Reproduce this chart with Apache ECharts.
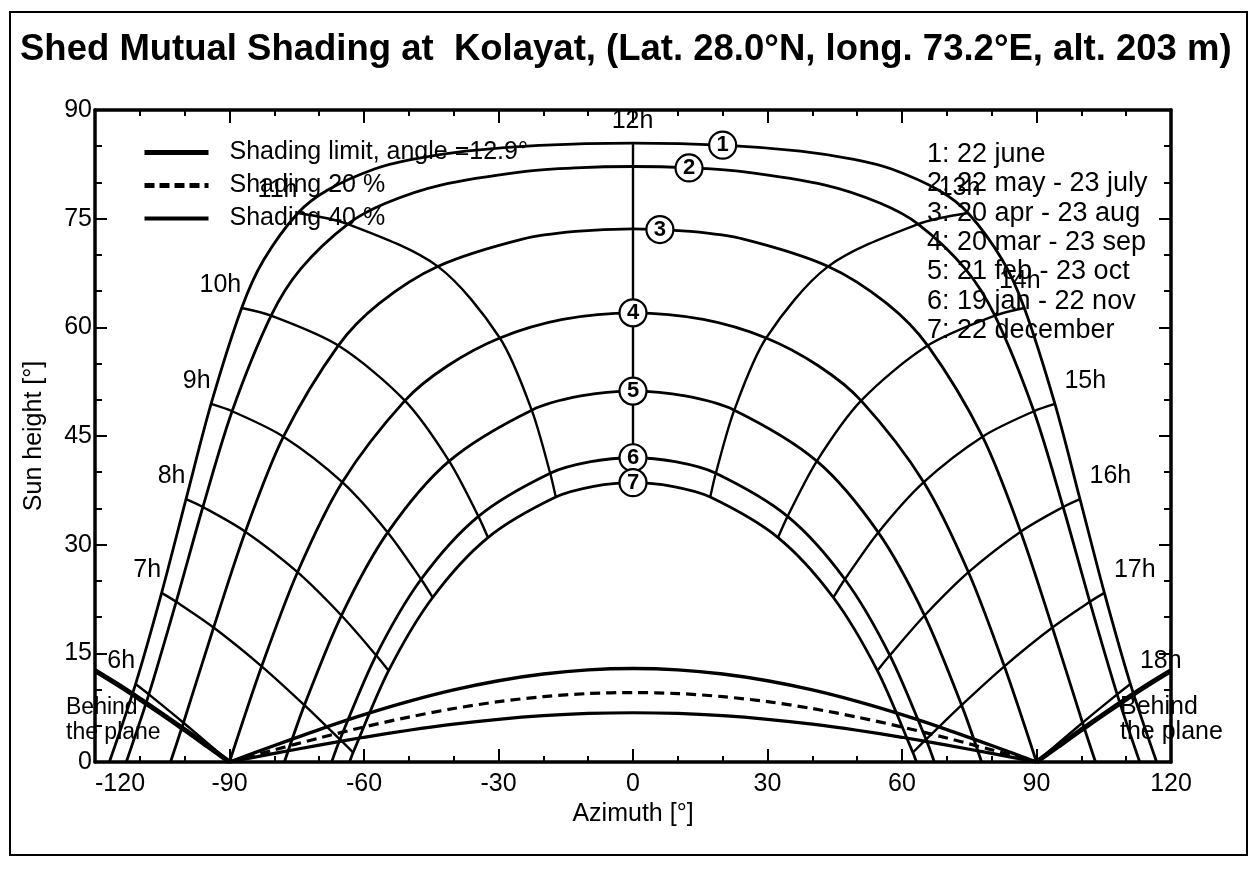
<!DOCTYPE html>
<html>
<head>
<meta charset="utf-8">
<script src="https://cdn.jsdelivr.net/npm/echarts@6/dist/echarts.min.js"></script>
<style>
  html, body { margin: 0; padding: 0; background: #fff; }
  #chart { width: 1257px; height: 870px; }
</style>
</head>
<body>
<div id="chart"></div>
<script>
const FONT = '"Liberation Sans", Arial, Helvetica, sans-serif';

const titleText = 'Shed Mutual Shading at  Kolayat, (Lat. 28.0°N, long. 73.2°E, alt. 203 m)';

// Sun paths, one per date: [solar time (h), azimuth (°), sun height (°)]
const path1 = [
  [5.11, -116.80, 0], [6, -110.95, 10.76], [7, -105.14, 23.35], [8, -99.70, 36.29], [9, -94.11, 49.43],
  [10, -87.28, 62.67], [10.5, -82.42, 69.25], [11, -74.73, 75.78], [11.25, -68.29, 78.89], [11.5, -57.67, 81.85],
  [11.625, -49.28, 83.18], [11.75, -37.34, 84.33], [11.875, -20.92, 85.13], [12, 0, 85.44],
  [12.125, 20.92, 85.13], [12.25, 37.34, 84.33], [12.375, 49.28, 83.18], [12.5, 57.67, 81.85], [12.75, 68.29, 78.89],
  [13, 74.73, 75.78], [13.5, 82.42, 69.25], [14, 87.28, 62.67], [15, 94.11, 49.43], [16, 99.70, 36.29],
  [17, 105.14, 23.35], [18, 110.95, 10.76], [18.89, 116.80, 0]
];
const path2 = [
  [5.25, -113.02, 0], [6, -107.99, 9.33], [7, -101.89, 22.12], [8, -95.94, 35.20], [9, -89.42, 48.42],
  [10, -80.72, 61.61], [10.5, -74.12, 68.07], [11, -63.60, 74.25], [11.25, -55.19, 77.12], [11.5, -42.87, 79.63],
  [11.75, -24.41, 81.49], [11.875, -12.87, 82.01], [12, 0, 82.20],
  [12.125, 12.87, 82.01], [12.25, 24.41, 81.49], [12.5, 42.87, 79.63], [12.75, 55.19, 77.12], [13, 63.60, 74.25],
  [13.5, 74.12, 68.07], [14, 80.72, 61.61], [15, 89.42, 48.42], [16, 95.94, 35.20], [17, 101.89, 22.12],
  [18, 107.99, 9.33], [18.75, 113.02, 0]
];
const path3 = [
  [5.58, -103.16, 0], [6, -100.27, 5.42], [7, -93.54, 18.56], [8, -86.47, 31.79], [9, -77.97, 44.91],
  [10, -65.74, 57.48], [10.5, -56.59, 63.31], [11, -43.55, 68.41], [11.5, -24.66, 72.18], [11.75, -12.82, 73.24],
  [12, 0, 73.60],
  [12.25, 12.82, 73.24], [12.5, 24.66, 72.18], [13, 43.55, 68.41], [13.5, 56.59, 63.31], [14, 65.74, 57.48],
  [15, 77.97, 44.91], [16, 86.47, 31.79], [17, 93.54, 18.56], [18, 100.27, 5.42], [18.42, 103.16, 0]
];
const path4 = [
  [6, -90.00, 0], [7, -82.83, 13.21], [8, -74.83, 26.20], [9, -64.85, 38.63], [10, -50.88, 49.88],
  [10.5, -41.42, 54.66], [11, -29.70, 58.53], [11.5, -15.68, 61.09], [12, 0, 62.00],
  [12.5, 15.68, 61.09], [13, 29.70, 58.53], [13.5, 41.42, 54.66], [14, 50.88, 49.88], [15, 64.85, 38.63],
  [16, 74.83, 26.20], [17, 82.83, 13.21], [18, 90.00, 0]
];
const path5 = [
  [6.39, -77.75, 0], [7, -73.29, 7.85], [8, -65.04, 20.22], [9, -54.71, 31.69], [10, -41.01, 41.54],
  [11, -22.59, 48.57], [11.5, -11.64, 50.53], [12, 0, 51.20],
  [12.5, 11.64, 50.53], [13, 22.59, 48.57], [14, 41.01, 41.54], [15, 54.71, 31.69], [16, 65.04, 20.22],
  [17, 73.29, 7.85], [17.61, 77.75, 0]
];
const path6 = [
  [6.74, -67.21, 0], [7, -65.37, 3.11], [8, -57.29, 14.73], [9, -47.26, 25.22], [10, -34.48, 33.91],
  [11, -18.47, 39.86], [11.5, -9.42, 41.45], [12, 0, 42.00],
  [12.5, 9.42, 41.45], [13, 18.47, 39.86], [14, 34.48, 33.91], [15, 47.26, 25.22], [16, 57.29, 14.73],
  [17, 65.37, 3.11], [17.26, 67.21, 0]
];
const path7 = [
  [6.89, -63.22, 0], [7, -62.43, 1.31], [8, -54.51, 12.61], [9, -44.69, 22.71], [10, -32.35, 30.98],
  [11, -17.23, 36.57], [11.5, -8.75, 38.05], [12, 0, 38.56],
  [12.5, 8.75, 38.05], [13, 17.23, 36.57], [14, 32.35, 30.98], [15, 44.69, 22.71], [16, 54.51, 12.61],
  [17, 62.43, 1.31], [17.11, 63.22, 0]
];

const dateLegend = [
  '1: 22 june', '2: 22 may - 23 july', '3: 20 apr - 23 aug', '4: 20 mar - 23 sep',
  '5: 21 feb - 23 oct', '6: 19 jan - 22 nov', '7: 22 december'
];

// Hour lines join the points of equal solar time across the dates
const hourValues = [6, 7, 8, 9, 10, 11, 12, 13, 14, 15, 16, 17, 18];

// Numbered date markers sitting on each path
const markerNumbers = ['1', '2', '3', '4', '5', '6', '7'];
const markerAz = [20, 12.5, 6, 0, 0, 0, 0];
const markerH = [85.15, 82.0, 73.5, 62.0, 51.2, 42.0, 38.56];

// Shading lines in front of the plane (azimuth -90..90)
const shadeAz = [-90, -80, -70, -60, -50, -40, -30, -20, -10, 0, 10, 20, 30, 40, 50, 60, 70, 80, 90];
const shadeLimit = [0, 2.28, 4.48, 6.53, 8.37, 9.95, 11.22, 12.14, 12.71, 12.9, 12.71, 12.14, 11.22, 9.95, 8.37, 6.53, 4.48, 2.28, 0];
const shade20 = [0, 1.68, 3.31, 4.83, 6.20, 7.38, 8.33, 9.02, 9.45, 9.59, 9.45, 9.02, 8.33, 7.38, 6.20, 4.83, 3.31, 1.68, 0];
const shade40 = [0, 1.19, 2.33, 3.41, 4.38, 5.22, 5.89, 6.39, 6.70, 6.80, 6.70, 6.39, 5.89, 5.22, 4.38, 3.41, 2.33, 1.19, 0];

// Limit line behind the plane
const behindAzLeft = [-120, -115, -110, -105, -100, -95, -90];
const behindHLeft = [12.6, 10.70, 8.69, 6.60, 4.44, 2.23, 0];
const behindAzRight = [90, 95, 100, 105, 110, 115, 120];
const behindHRight = [0, 2.23, 4.44, 6.60, 8.69, 10.70, 12.6];

const legendNames = ['Shading limit, angle =12.9°', 'Shading 20 %', 'Shading 40 %'];

const paths = [path1, path2, path3, path4, path5, path6, path7];
const zip = (xs, ys) => xs.map((x, i) => [x, ys[i]]);
const BLACK = '#000000';

const series = [];

paths.forEach((p, i) => {
  series.push({
    name: 'path' + (i + 1), type: 'line', data: p.map(d => [d[1], d[2]]),
    smooth: 0.3, symbol: 'none', silent: true, z: 3, color: BLACK,
    lineStyle: { color: BLACK, width: 2.8 }
  });
});

hourValues.forEach(hr => {
  const pts = paths.map(p => p.find(d => d[0] === hr)).filter(Boolean).map(d => [d[1], d[2]]);
  series.push({
    name: hr + 'h', type: 'line', data: pts,
    smooth: hr === 12 ? false : 0.3, symbol: 'none', silent: true, z: 3, color: BLACK,
    lineStyle: { color: BLACK, width: 2.4 }
  });
});

series.push({
  name: legendNames[0], type: 'line', data: zip(shadeAz, shadeLimit), smooth: 0.3,
  symbol: 'none', silent: true, z: 4, color: BLACK, lineStyle: { color: BLACK, width: 3.4 }
});
series.push({
  name: legendNames[1], type: 'line', data: zip(shadeAz, shade20), smooth: 0.3,
  symbol: 'none', silent: true, z: 4, color: BLACK, lineStyle: { color: BLACK, width: 3.2, type: [10, 6] }
});
series.push({
  name: legendNames[2], type: 'line', data: zip(shadeAz, shade40), smooth: 0.3,
  symbol: 'none', silent: true, z: 4, color: BLACK, lineStyle: { color: BLACK, width: 3.2 }
});
series.push({
  name: 'behindLeft', type: 'line', data: zip(behindAzLeft, behindHLeft), smooth: 0.3,
  symbol: 'none', silent: true, z: 4, color: BLACK, lineStyle: { color: BLACK, width: 5 }
});
series.push({
  name: 'behindRight', type: 'line', data: zip(behindAzRight, behindHRight), smooth: 0.3,
  symbol: 'none', silent: true, z: 4, color: BLACK, lineStyle: { color: BLACK, width: 5 }
});

// Date markers: white discs with the date number
const markerLabel = {
  show: true, position: 'inside', formatter: '{b}', color: BLACK, opacity: 1,
  fontFamily: FONT, fontSize: 22, fontWeight: 'bold', textBorderWidth: 0
};
series.push({
  name: 'markers', type: 'scatter', silent: true, z: 6,
  data: markerNumbers.map((n, i) => ({ name: n, value: [markerAz[i], markerH[i]], label: markerLabel })),
  symbol: 'circle', symbolSize: 27,
  itemStyle: { color: '#ffffff', borderColor: BLACK, borderWidth: 2.2, opacity: 1 },
  label: markerLabel
});

// Hour labels at the outer (22 june) end of each hour line
function hourLabel(hr) {
  if (hr < 12) return { align: 'right', verticalAlign: 'bottom', offset: [0, -10] };
  if (hr === 12) return { align: 'center', verticalAlign: 'bottom', offset: [0, -9] };
  if (hr === 13) return { align: 'center', verticalAlign: 'bottom', offset: [-8, -12] };
  if (hr === 14) return { align: 'center', verticalAlign: 'bottom', offset: [-4, -14] };
  return { align: 'left', verticalAlign: 'bottom', offset: [10, -10] };
}
const hourLabelBase = {
  show: true, position: [0, 0], formatter: '{b}', color: BLACK, opacity: 1,
  fontFamily: FONT, fontSize: 25, textBorderWidth: 0
};
series.push({
  name: 'hourLabels', type: 'scatter', silent: true, z: 7, symbolSize: 1,
  itemStyle: { opacity: 0 },
  data: hourValues.map(hr => {
    const d = path1.find(p => p[0] === hr);
    return {
      name: hr + 'h', value: [d[1], d[2]],
      label: Object.assign({}, hourLabelBase, hourLabel(hr))
    };
  }),
  label: hourLabelBase
});

const axisCommon = {
  axisLine: { onZero: false, lineStyle: { color: BLACK, width: 3.5 } },
  splitLine: { show: false },
  minorSplitLine: { show: false }
};

const option = {
  backgroundColor: '#ffffff',
  animation: false,
  title: {
    text: titleText, left: 15, top: 26,
    textStyle: { fontFamily: FONT, fontSize: 36.5, fontWeight: 'bold', color: BLACK }
  },
  grid: { left: 95, right: 86, top: 110, bottom: 108 },
  legend: {
    orient: 'vertical', left: 137, top: 133, itemWidth: 64, itemHeight: 14, itemGap: 4,
    selectedMode: false,
    itemStyle: { opacity: 0 },
    data: [
      { name: legendNames[0], lineStyle: { width: 5, color: BLACK }, itemStyle: { opacity: 0 } },
      { name: legendNames[1], lineStyle: { width: 5, color: BLACK, type: [10, 5] }, itemStyle: { opacity: 0 } },
      { name: legendNames[2], lineStyle: { width: 4, color: BLACK }, itemStyle: { opacity: 0 } }
    ],
    textStyle: { fontFamily: FONT, fontSize: 25, color: BLACK, padding: [0, 0, 0, 16], lineHeight: 29 }
  },
  xAxis: [
    Object.assign({}, axisCommon, {
      type: 'value', min: -120, max: 120, interval: 30, position: 'bottom',
      axisTick: { inside: true, length: 13, lineStyle: { color: BLACK, width: 2 } },
      minorTick: { show: true, splitNumber: 3, length: 6, lineStyle: { color: BLACK, width: 2 } },
      axisLabel: { fontFamily: FONT, fontSize: 25, color: BLACK, margin: 10, alignMinLabel: 'left' },
      name: 'Azimuth [°]', nameLocation: 'middle', nameGap: 39,
      nameTextStyle: { fontFamily: FONT, fontSize: 25, color: BLACK }
    }),
    Object.assign({}, axisCommon, {
      type: 'value', min: -120, max: 120, interval: 30, position: 'top',
      axisTick: { inside: true, length: 13, lineStyle: { color: BLACK, width: 2 } },
      minorTick: { show: true, splitNumber: 3, length: 6, lineStyle: { color: BLACK, width: 2 } },
      axisLabel: { show: false }
    })
  ],
  yAxis: [
    Object.assign({}, axisCommon, {
      type: 'value', min: 0, max: 90, interval: 15, position: 'left',
      axisTick: { inside: true, length: 12, lineStyle: { color: BLACK, width: 2 } },
      minorTick: { show: true, splitNumber: 3, length: 7, lineStyle: { color: BLACK, width: 2 } },
      axisLabel: { fontFamily: FONT, fontSize: 25, color: BLACK, margin: 3 },
      name: 'Sun height [°]', nameLocation: 'middle', nameGap: 48, nameRotate: 90,
      nameTextStyle: { fontFamily: FONT, fontSize: 25, color: BLACK }
    }),
    Object.assign({}, axisCommon, {
      type: 'value', min: 0, max: 90, interval: 15, position: 'right',
      axisTick: { inside: true, length: 12, lineStyle: { color: BLACK, width: 2 } },
      minorTick: { show: true, splitNumber: 3, length: 7, lineStyle: { color: BLACK, width: 2 } },
      axisLabel: { show: false }
    })
  ],
  graphic: [
    {
      type: 'rect', silent: true, z: -10,
      shape: { x: 10, y: 12, width: 1237, height: 843 },
      style: { fill: 'none', stroke: BLACK, lineWidth: 2 }
    },
    {
      type: 'text', left: 927, top: 140, silent: true, z: 10,
      style: { text: dateLegend.join('\n'), fontFamily: FONT, fontSize: 27, lineHeight: 29.3, fill: BLACK }
    },
    {
      type: 'text', left: 66, top: 695, silent: true, z: 10,
      style: { text: 'Behind\nthe plane', fontFamily: FONT, fontSize: 23, lineHeight: 25, fill: BLACK }
    },
    {
      type: 'text', left: 1120, top: 695, silent: true, z: 10,
      style: { text: 'Behind\nthe plane', fontFamily: FONT, fontSize: 25, lineHeight: 25, fill: BLACK }
    }
  ],
  series: series
};

const chart = echarts.init(document.getElementById('chart'), null, { renderer: 'canvas' });
chart.setOption(option);
</script>
</body>
</html>
